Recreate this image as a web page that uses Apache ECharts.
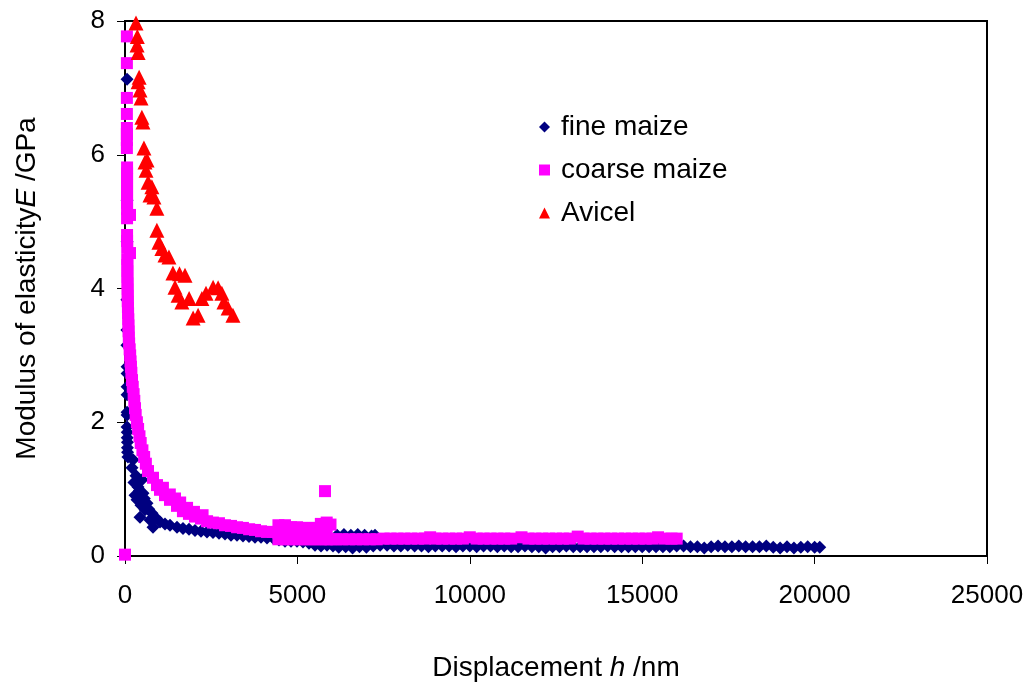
<!DOCTYPE html>
<html>
<head>
<meta charset="utf-8">
<script src="https://cdn.jsdelivr.net/npm/echarts@6/dist/echarts.min.js"></script>
<style>
  html, body { margin: 0; padding: 0; background: #fff; }
  #chart { width: 1027px; height: 688px; }
</style>
</head>
<body>
<div id="chart"></div>
<script>
// values: [displacement nm, modulus GPa]
var fineMaize = [
  [60, 7.13],
  [60, 5.32], [60, 4.70], [55, 3.83], [55, 3.38], [55, 3.15], [60, 2.83], [60, 2.73], [60, 2.53],
  [60, 2.41], [60, 2.15], [60, 2.11], [60, 1.93], [65, 1.85], [65, 1.77], [70, 1.70], [70, 1.62],
  [75, 1.55], [85, 1.48],
  [232, 1.44], [203, 1.32], [319, 1.20], [493, 1.14], [377, 1.03], [290, 0.91], [522, 0.94],
  [348, 0.84], [464, 0.76], [638, 0.79], [580, 0.69], [783, 0.64], [435, 0.58], [725, 0.54],
  [900, 0.57], [812, 0.43], [260, 1.10], [420, 0.98], [560, 0.86], [690, 0.70],
  [1015, 0.51], [1160, 0.48], [1305, 0.46], [1508, 0.43], [1682, 0.41], [1856, 0.40], [2030, 0.38],
  [2204, 0.37], [2378, 0.36], [2552, 0.35], [2726, 0.34], [2900, 0.33], [3074, 0.31], [3248, 0.31],
  [3422, 0.30], [3596, 0.29], [3770, 0.28], [3944, 0.28], [4118, 0.27], [4292, 0.27], [4466, 0.24],
  [4640, 0.22], [4814, 0.22], [4988, 0.22], [5162, 0.21], [5336, 0.19], [5510, 0.16], [5684, 0.15],
  [5858, 0.16], [6032, 0.15],
  [6150, 0.31], [6350, 0.32], [6550, 0.31], [6750, 0.32], [6950, 0.31], [7150, 0.30], [7250, 0.31],
  [6200, 0.13], [6400, 0.14], [6600, 0.12], [6800, 0.14], [7000, 0.13], [7200, 0.15], [7400, 0.16],
  [7600, 0.16], [7800, 0.15], [8000, 0.15], [8200, 0.16], [8400, 0.15], [8600, 0.15], [8800, 0.14],
  [9000, 0.15], [9200, 0.15], [9400, 0.15], [9600, 0.14], [9800, 0.15], [10000, 0.15], [10200, 0.14],
  [10400, 0.15], [10600, 0.15], [10800, 0.14], [11000, 0.15], [11200, 0.14], [11400, 0.14], [11600, 0.15],
  [11800, 0.14], [12000, 0.14], [12200, 0.12], [12400, 0.14], [12600, 0.14], [12800, 0.15], [13000, 0.14],
  [13200, 0.14], [13400, 0.14], [13600, 0.14], [13800, 0.14], [14000, 0.15], [14200, 0.14], [14400, 0.14],
  [14600, 0.14], [14800, 0.14], [15000, 0.14], [15200, 0.14], [15400, 0.14], [15600, 0.14], [15800, 0.14],
  [16000, 0.15], [16200, 0.15], [16400, 0.14], [16600, 0.14], [16800, 0.12], [17000, 0.14], [17200, 0.15],
  [17400, 0.14], [17600, 0.14], [17800, 0.15], [18000, 0.14], [18200, 0.14], [18400, 0.14], [18600, 0.15],
  [18800, 0.13], [19000, 0.12], [19200, 0.14], [19400, 0.12], [19600, 0.13], [19800, 0.14], [20000, 0.13],
  [20150, 0.13]
];

var coarseMaize = [
  [0, 0.02],
  [55, 7.77], [55, 7.37], [55, 6.85], [55, 6.61], [55, 6.40], [55, 6.31], [55, 6.22], [55, 6.10],
  [60, 5.81], [60, 5.72], [60, 5.64], [60, 5.55], [60, 5.46], [60, 5.37], [60, 5.28], [60, 5.19],
  [145, 5.10], [60, 5.05],
  [60, 4.80], [60, 4.71], [65, 4.62], [145, 4.53], [65, 4.44], [70, 4.35], [70, 4.26], [70, 4.17],
  [75, 4.08], [75, 3.99], [80, 3.90], [80, 3.81], [85, 3.72], [90, 3.63], [95, 3.54], [100, 3.45],
  [105, 3.36], [110, 3.27],
  [120, 3.18], [135, 3.09], [150, 3.00], [160, 2.91], [172, 2.83], [185, 2.74], [203, 2.63], [225, 2.53],
  [250, 2.42], [270, 2.32], [290, 2.21], [310, 2.11], [345, 2.00], [380, 1.90], [420, 1.79], [455, 1.69],
  [505, 1.58], [555, 1.48], [605, 1.38], [667, 1.27], [812, 1.17], [928, 1.06], [1015, 0.99],
  [1160, 0.91], [1305, 0.84], [1450, 0.86], [1508, 0.75], [1680, 0.67], [1855, 0.63], [2030, 0.59],
  [1100, 1.02], [1300, 0.92], [1600, 0.80], [1800, 0.72], [2000, 0.66], [2250, 0.61],
  [2205, 0.56], [2380, 0.52], [2550, 0.50], [2725, 0.49], [2900, 0.46], [3075, 0.45], [3250, 0.43],
  [3420, 0.42], [3600, 0.40], [3770, 0.39], [3945, 0.37], [4120, 0.36], [4290, 0.36],
  [4450, 0.46], [4450, 0.35], [4450, 0.25], [4640, 0.46], [4640, 0.35], [4640, 0.25],
  [4815, 0.43], [4815, 0.34], [4815, 0.25], [4990, 0.43], [4990, 0.34], [4990, 0.25],
  [5160, 0.42], [5160, 0.33], [5160, 0.25], [5340, 0.42], [5340, 0.33], [5340, 0.25],
  [5510, 0.42], [5510, 0.33], [5510, 0.25], [5680, 0.48], [5680, 0.36], [5680, 0.25],
  [5850, 0.50], [5850, 0.36], [5850, 0.25], [5800, 0.97], [5960, 0.47], [5960, 0.25],
  [6130, 0.25], [6300, 0.25], [6500, 0.25], [6700, 0.25], [6900, 0.25], [7100, 0.25], [7300, 0.25],
  [7500, 0.26], [7700, 0.26], [7900, 0.26], [8100, 0.26], [8300, 0.26], [8500, 0.26], [8700, 0.26],
  [8850, 0.28], [9000, 0.26], [9200, 0.26], [9400, 0.26], [9600, 0.26], [9800, 0.26], [10000, 0.28],
  [10200, 0.26], [10400, 0.26], [10600, 0.26], [10800, 0.26], [11000, 0.26], [11200, 0.26], [11500, 0.28],
  [11700, 0.26], [11900, 0.26], [12100, 0.26], [12300, 0.26], [12500, 0.26], [12700, 0.26], [12900, 0.26],
  [13130, 0.29], [13300, 0.26], [13500, 0.26], [13700, 0.26], [13900, 0.26], [14100, 0.26], [14300, 0.26],
  [14500, 0.26], [14700, 0.26], [14900, 0.26], [15100, 0.26], [15300, 0.26], [15460, 0.28], [15650, 0.26],
  [15850, 0.26], [16000, 0.26]
];

var avicel = [
  [319, 7.97], [357, 7.77], [350, 7.64], [380, 7.53], [410, 7.16], [380, 7.09], [435, 6.97], [465, 6.85],
  [490, 6.56], [520, 6.49], [550, 6.10], [580, 5.89], [640, 5.92], [610, 5.77], [670, 5.59], [780, 5.52],
  [725, 5.40], [840, 5.37], [925, 5.20], [925, 4.87], [985, 4.69], [1070, 4.60], [1160, 4.50], [1275, 4.47],
  [1390, 4.23], [1580, 4.22], [1740, 4.20], [1450, 4.02], [1540, 3.90], [1650, 3.80], [1860, 3.85],
  [1975, 3.56], [2120, 3.60], [2230, 3.85], [2350, 3.93], [2555, 4.02], [2700, 4.01], [2810, 3.93],
  [2870, 3.80], [2990, 3.71], [3130, 3.60]
];

var seriesNames = ['fine maize', 'coarse maize', 'Avicel'];
var xTicks = { min: 0, max: 25000, step: 5000 };
var yTicks = { min: 0, max: 8, step: 2 };

var font = "'Liberation Sans', Arial, sans-serif";

var chart = echarts.init(document.getElementById('chart'));
chart.setOption({
  animation: false,
  backgroundColor: '#fff',
  grid: {
    left: 125,
    right: 40,
    top: 21,
    bottom: 132,
    show: true,
    borderColor: '#000',
    borderWidth: 2
  },
  legend: {
    data: seriesNames,
    orient: 'vertical',
    left: 534,
    top: 108,
    itemWidth: 11,
    itemHeight: 11,
    itemGap: 15,
    textStyle: { fontSize: 28, lineHeight: 28, color: '#000', fontFamily: font, padding: [0, 0, 0, 6] }
  },
  xAxis: {
    type: 'value',
    min: xTicks.min,
    max: xTicks.max,
    interval: xTicks.step,
    name: '{a|Displacement }{i|h}{a| /nm}',
    nameLocation: 'middle',
    nameGap: 98,
    nameTextStyle: {
      rich: {
        a: { fontSize: 28, color: '#000', fontFamily: font },
        i: { fontSize: 28, color: '#000', fontFamily: font, fontStyle: 'italic' }
      }
    },
    axisLine: { show: true, lineStyle: { color: '#000', width: 2 } },
    axisTick: { show: true, length: 8, lineStyle: { color: '#000' } },
    splitLine: { show: false },
    axisLabel: {
      fontSize: 26, color: '#000', margin: 27, fontFamily: font,
      formatter: function (v) { return String(v); }
    }
  },
  yAxis: {
    type: 'value',
    min: yTicks.min,
    max: yTicks.max,
    interval: yTicks.step,
    name: '{a|Modulus of elasticity}{i|E}{a| /GPa}',
    nameLocation: 'middle',
    nameGap: 84,
    nameRotate: 90,
    nameTextStyle: {
      rich: {
        a: { fontSize: 28, color: '#000', fontFamily: font },
        i: { fontSize: 28, color: '#000', fontFamily: font, fontStyle: 'italic' }
      }
    },
    axisLine: { show: true, lineStyle: { color: '#000', width: 2 } },
    axisTick: { show: true, length: 8, lineStyle: { color: '#000' } },
    splitLine: { show: false },
    axisLabel: { fontSize: 26, color: '#000', margin: 20, fontFamily: font }
  },
  series: [
    {
      name: seriesNames[0],
      type: 'scatter',
      symbol: 'diamond',
      symbolSize: 13,
      itemStyle: { color: '#000080', opacity: 1 },
      data: fineMaize
    },
    {
      name: seriesNames[1],
      type: 'scatter',
      symbol: 'rect',
      symbolSize: 12,
      itemStyle: { color: '#FF00FF', opacity: 1 },
      data: coarseMaize
    },
    {
      name: seriesNames[2],
      type: 'scatter',
      symbol: 'triangle',
      symbolSize: 15,
      itemStyle: { color: '#FF0000', opacity: 1 },
      data: avicel
    }
  ]
});
</script>
</body>
</html>
